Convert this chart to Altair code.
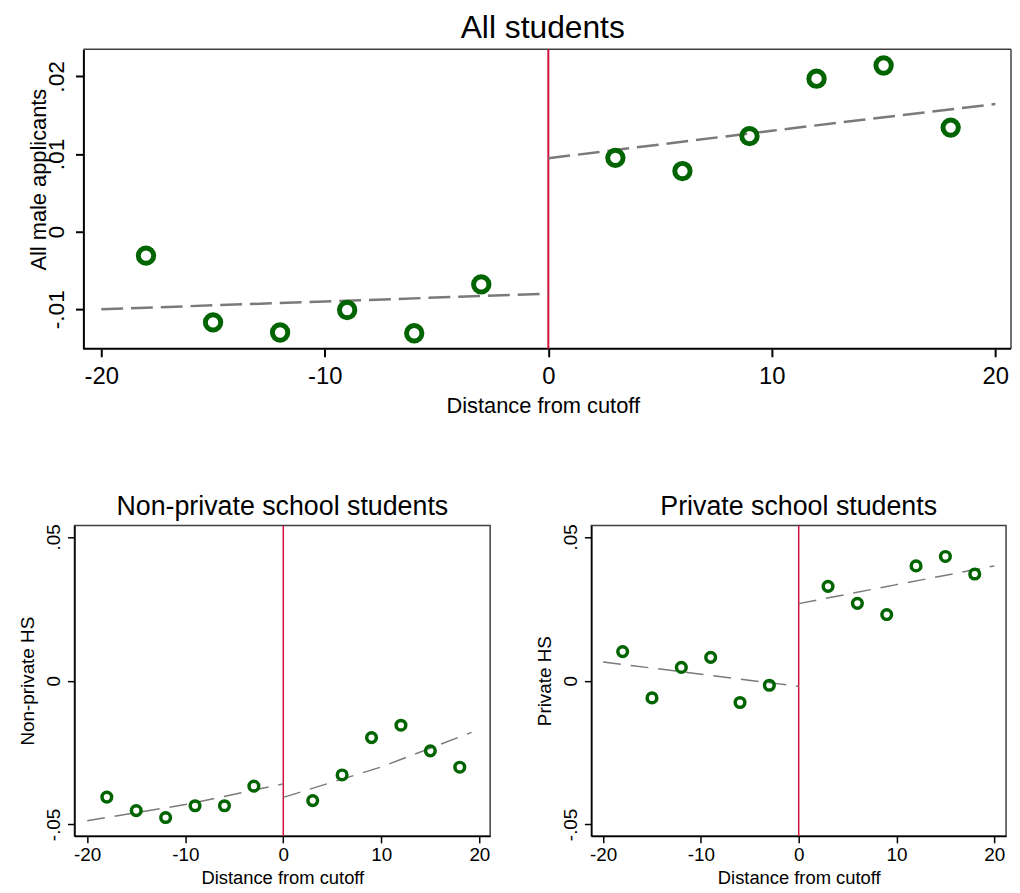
import altair as alt
import pandas as pd

FONT = "Liberation Sans"
GREEN = "#006400"
RED = "#d0103a"
GRAY = "#7a7a7a"
FRAME = "#404040"

# ---- data ----
bins = [-18, -15, -12, -9, -6, -3, 3, 6, 9, 12, 15, 18]
all_vals = [-0.0031, -0.0117, -0.0130, -0.0101, -0.0131, -0.0068,
            0.0095, 0.0078, 0.0123, 0.0197, 0.0214, 0.0134]
nonpriv_vals = [-0.0405, -0.0452, -0.0476, -0.0435, -0.0435, -0.0367,
                -0.0417, -0.0328, -0.0198, -0.0155, -0.0244, -0.0301]
priv_vals = [0.0101, -0.0060, 0.0046, 0.0081, -0.0076, -0.0016,
             0.0328, 0.0269, 0.0230, 0.0399, 0.0432, 0.0371]

fit_left_x = [-20, -10, 0]
all_fit_right_x = [0, 10, 20]
all_fit_left = [-0.0100, -0.0090, -0.0080]
all_fit_right = [0.00945, 0.0130, 0.01644]
nonpriv_fit_left = [-0.0487, -0.0431, -0.0359]
nonpriv_fit_right_x = [0, 10, 19.2]
nonpriv_fit_right = [-0.0406, -0.0300, -0.0180]
priv_fit_left = [0.0065, 0.00225, -0.0020]
priv_fit_right_x = [0, 10, 20]
priv_fit_right = [0.0268, 0.0334, 0.0399]

x_ticks = [-20, -10, 0, 10, 20]
top_y_ticks = [-0.01, 0, 0.01, 0.02]
bottom_y_ticks = [-0.05, 0, 0.05]

# plot-region limits (data units)
top_x_frame = [-20.8, 20.7]   # drawn box of the top panel
top_x_scale = [-21.2, 20.7]   # scale domain (extra room left of the box)
top_y_dom = [-0.0151, 0.0235]
bl_x_dom = [-21.3, 21.1]
br_x_dom = [-21.2, 21.2]
bottom_y_dom = [-0.054, 0.054]

Y_LABEL_EXPR = ("datum.value > 0.0000001 ? replace(format(datum.value, '.2f'), '0.', '.') : "
                "(datum.value < -0.0000001 ? '-' + replace(format(-datum.value, '.2f'), '0.', '.') : '0')")
X_LABEL_EXPR = "datum.value < 0 ? '-' + format(-datum.value, 'd') : format(datum.value, 'd')"


def panel(title, ytitle, vals, flx, fly, frx, fry, xdom, ydom, yticks,
          w, h, s, frame_x=None):
    pts = pd.DataFrame({"x": bins, "y": vals})
    fit = pd.DataFrame({
        "x": list(flx) + list(frx),
        "y": list(fly) + list(fry),
        "seg": ["L"] * len(flx) + ["R"] * len(frx),
    })
    zero = pd.DataFrame({"x": [0]})
    manual = frame_x is not None

    xaxis = dict(values=x_ticks, title="Distance from cutoff",
                 labelExpr=X_LABEL_EXPR,
                 grid=False, tickSize=s["tick"], tickColor="black",
                 tickWidth=s["axw"], domainColor="black",
                 domainWidth=s["axw"], labelFont=FONT,
                 labelFontSize=s["lab"], labelColor="black",
                 labelPadding=s["lpad"], titleFont=FONT,
                 titleFontSize=s["tit"], titleFontWeight="normal",
                 titleColor="black", titlePadding=s["tpad"],
                 labelFlush=False)
    yaxis = dict(values=yticks, title=ytitle, labelExpr=Y_LABEL_EXPR,
                 grid=False, tickSize=s["tick"], tickColor="black",
                 tickWidth=s["axw"], domainColor="black",
                 domainWidth=s["axw"], labelFont=FONT,
                 labelFontSize=s["ylab"], labelColor="black",
                 labelAngle=-90, labelAlign="center",
                 labelBaseline="bottom",
                 labelPadding=s["ylpad"], titleFont=FONT,
                 titleFontSize=s["ytit"], titleFontWeight="normal",
                 titleColor="black", titlePadding=s["ytpad"],
                 labelFlush=False, minExtent=s["ext"],
                 maxExtent=s["ext"])
    if manual:
        xaxis["domain"] = False
        yaxis["offset"] = s["yoff"]
        yaxis["titleY"] = s["ytitle_y"]

    xenc = alt.X("x:Q", scale=alt.Scale(domain=xdom, nice=False, zero=False),
                 axis=alt.Axis(**xaxis))
    yenc = alt.Y("y:Q", scale=alt.Scale(domain=ydom, nice=False, zero=False),
                 axis=alt.Axis(**yaxis))

    layers = []
    if manual:
        box = pd.DataFrame({"x": [frame_x[0]], "x2": [frame_x[1]],
                            "ylo": [ydom[0]], "yhi": [ydom[1]]})
        base = alt.Chart(box)
        layers.append(base.mark_rule(color=FRAME, strokeWidth=1.5).encode(
            x=alt.X("x:Q", scale=alt.Scale(domain=xdom, nice=False, zero=False),
                    axis=alt.Axis(**xaxis)),
            x2="x2:Q", y=alt.Y("yhi:Q", scale=alt.Scale(domain=ydom, nice=False,
                                                        zero=False),
                                axis=alt.Axis(**yaxis))))
        layers.append(base.mark_rule(color=FRAME, strokeWidth=1.5).encode(
            x=alt.X("x2:Q"), y="ylo:Q", y2="yhi:Q"))
        layers.append(base.mark_rule(color="black", strokeWidth=s["axw"]).encode(
            x=alt.X("x:Q"), x2="x2:Q", y="ylo:Q"))

    layers.append(alt.Chart(zero).mark_rule(color=RED, strokeWidth=s["rule"]).encode(x=xenc))
    layers.append(alt.Chart(fit).mark_line(color=GRAY, strokeWidth=s["lw"],
                                           strokeDash=s["dash"]).encode(
        x=xenc, y=yenc, detail="seg:N"))
    layers.append(alt.Chart(pts).mark_point(shape="circle", filled=False, color=GREEN,
                                            strokeWidth=s["pw"], size=s["ps"],
                                            opacity=1).encode(x=xenc, y=yenc))
    props = dict(width=w, height=h,
                 title=alt.Title(title, font=FONT, fontSize=s["ttl"],
                                 fontWeight="normal", color="black",
                                 anchor="middle", offset=s["toff"]))
    if manual:
        props["view"] = alt.ViewBackground(strokeOpacity=0)
    return alt.layer(*layers).properties(**props)


top_style = dict(tick=8, axw=2, lab=24, lpad=8, tit=22, tpad=7, ylab=23,
                 ylpad=7, ytit=22, ytpad=0, ext=33, rule=2, lw=2.5,
                 dash=[22, 8], pw=5, ps=240, ttl=32, toff=3, yoff=-9,
                 ytitle_y=131)
bot_style = dict(tick=7, axw=1.5, lab=19, lpad=3, tit=18.5, tpad=4, ylab=19,
                 ylpad=4, ytit=19, ytpad=9, ext=28, rule=1.5, lw=1.5,
                 dash=[18, 10], pw=3.5, ps=95, ttl=27, toff=3)

top = panel("All students", "All male applicants", all_vals,
            fit_left_x, all_fit_left, all_fit_right_x, all_fit_right,
            top_x_scale, top_y_dom, top_y_ticks, 944, 302, top_style,
            frame_x=top_x_frame)
bl = panel("Non-private school students", "Non-private HS", nonpriv_vals,
           fit_left_x, nonpriv_fit_left, nonpriv_fit_right_x, nonpriv_fit_right,
           bl_x_dom, bottom_y_dom, bottom_y_ticks, 419, 313, bot_style)
br = panel("Private school students", "Private HS", priv_vals,
           fit_left_x, priv_fit_left, priv_fit_right_x, priv_fit_right,
           br_x_dom, bottom_y_dom, bottom_y_ticks, 418, 313, bot_style)

chart = alt.vconcat(
    top,
    alt.hconcat(bl, br, spacing=44),
    spacing=76,
).properties(
    padding={"left": 10, "top": 0, "right": 0, "bottom": 0},
    background="white",
).configure_view(
    stroke=FRAME, strokeWidth=1.5
)

chart.save("out.html", embed_options={"renderer": "svg", "actions": False})
